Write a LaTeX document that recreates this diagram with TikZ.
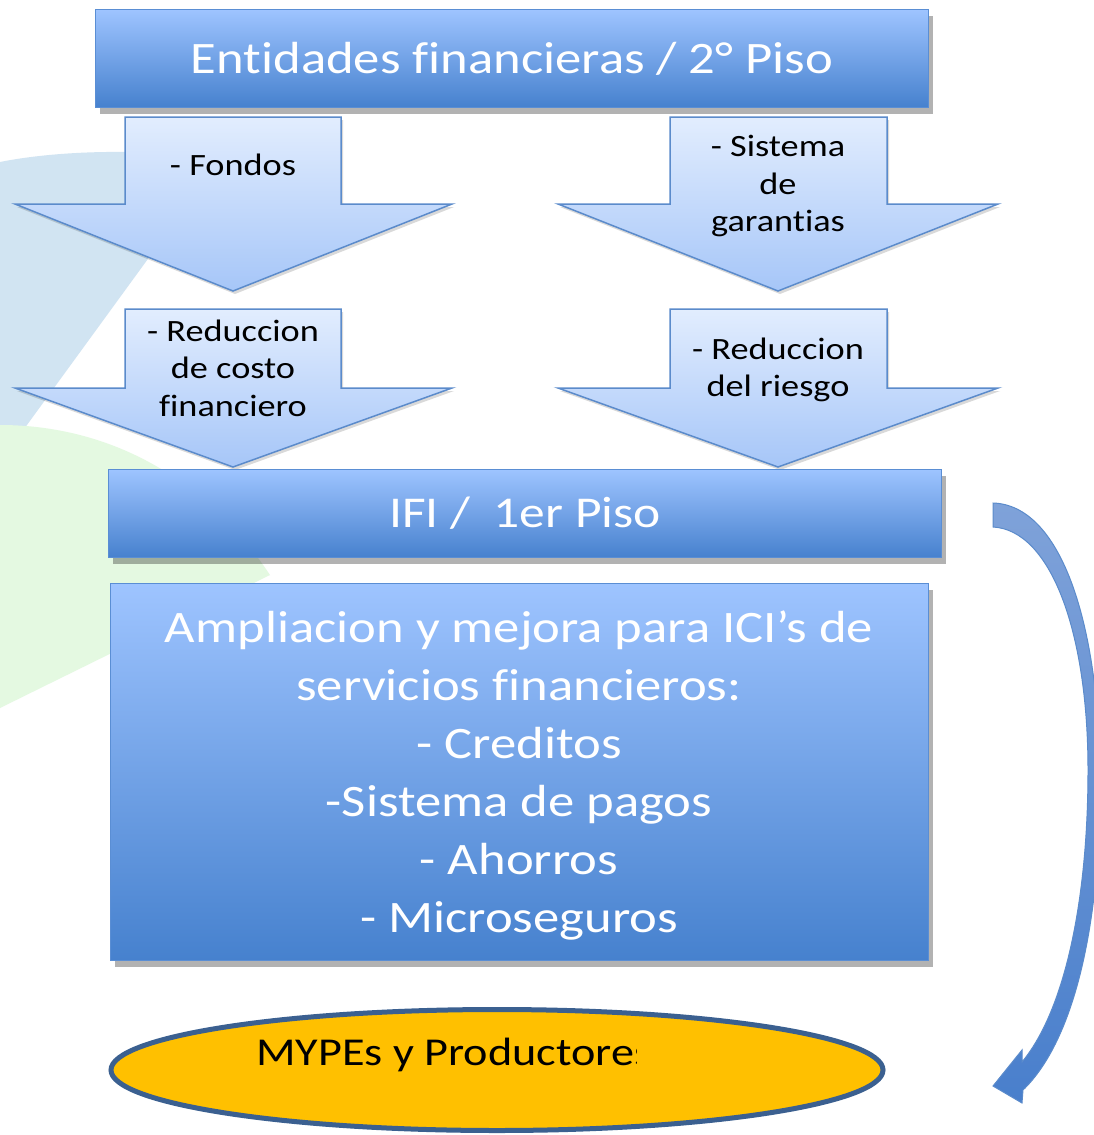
\documentclass[tikz,border=0pt]{standalone}
\usepackage{fontspec}
\setmainfont{Carlito}[FakeStretch=1.17, Ligatures=CommonOff, RawFeature={-liga;-clig;-dlig}]
\usetikzlibrary{shadows,shapes.geometric}
\definecolor{bgblue}{HTML}{D1E4F2}
\definecolor{bggreen}{HTML}{E4F9E1}
\definecolor{hdtop}{HTML}{9EC4FF}
\definecolor{hdbot}{HTML}{4681CE}
\definecolor{hdline}{HTML}{5A8ED4}
\definecolor{artop}{HTML}{E2EDFE}
\definecolor{arbot}{HTML}{A6C6F8}
\definecolor{arline}{HTML}{5B8BCB}
\definecolor{cvtop}{HTML}{7FA2D9}
\definecolor{cvbot}{HTML}{497FCC}
\definecolor{ellfill}{HTML}{FFC000}
\definecolor{ellline}{HTML}{3B6090}
\begin{document}
\begin{tikzpicture}[x=1pt,y=-1pt,
  header/.style={draw=hdline, line width=1pt, top color=hdtop, bottom color=hdbot,
    drop shadow={shadow xshift=4pt, shadow yshift=-6pt, opacity=0.3, fill=black},
    text=white, inner sep=0pt},
  blockarrow/.style={draw=arline, line width=1.5pt, top color=artop, bottom color=arbot,
    drop shadow={shadow xshift=2pt, shadow yshift=-3pt, opacity=0.15, fill=black}},
  arrowtext/.style={font=\fontsize{31}{37.5}\selectfont, align=center, text=black, inner sep=0pt},
  bigtext/.style={font=\fontsize{45}{58}\selectfont, align=center, text=white, inner sep=0pt}
]
\useasboundingbox (0,0) rectangle (1094,1135);
\clip (0,0) rectangle (1094,1135);
\fill[white] (0,0) rectangle (1094,1135);
% background decorative sectors
\fill[bgblue] (0,162) .. controls (60,150) and (150,148) .. (220,160) -- (0,462) -- cycle;
\fill[bggreen] (0,425) .. controls (100,425) and (200,470) .. (270,575) -- (0,708) -- cycle;
% block arrows
\path[blockarrow] (125,117) -- (341,117) -- (341,204) -- (452,204) -- (233,291) -- (15,204) -- (125,204) -- cycle;
\path[blockarrow] (670,117) -- (887,117) -- (887,204) -- (998,204) -- (778,291) -- (558,204) -- (670,204) -- cycle;
\path[blockarrow] (125,309) -- (341,309) -- (341,388) -- (452,388) -- (233,467) -- (15,388) -- (125,388) -- cycle;
\path[blockarrow] (670,309) -- (887,309) -- (887,388) -- (998,388) -- (778,467) -- (558,388) -- (670,388) -- cycle;
\node[arrowtext, anchor=base] (fondos) at (233,175) {- Fondos};
\node[arrowtext] (garantias) at (778,186) {- Sistema\\de\\garantias};
\node[arrowtext] (costo) at (233,368) {- Reduccion\\de costo\\financiero};
\node[arrowtext] (riesgo) at (778,370) {- Reduccion\\del riesgo};
% header boxes
\node[header, anchor=north west, minimum width=833pt, minimum height=98pt,
  font=\fontsize{45}{54}\selectfont] (entidades) at (95,9) {Entidades financieras / 2° Piso};
\node[header, anchor=north west, minimum width=833pt, minimum height=88pt,
  font=\fontsize{44}{52}\selectfont] (ifi) at (108,469) {IFI / \ 1er Piso};
\node[header, anchor=north west, minimum width=818pt, minimum height=377pt] (servicios) at (110,583) {};
\node[bigtext] (serviciostext) at (519,775.5)
  {Ampliacion y mejora para ICI’s de\\servicios financieros:\\- Creditos\\-Sistema de pagos\\- Ahorros\\- Microseguros};
% ellipse
\node[ellipse, draw=ellline, line width=5pt, fill=ellfill, minimum width=772pt, minimum height=121pt] (mypes) at (497,1070) {};
\begin{scope}
\clip (240,1020) rectangle (636,1090);
\node[anchor=base west, inner sep=0pt, font=\fontsize{39.5}{46}\selectfont, text=black] (mypestext) at (256,1065) {MYPEs y Productores};
\end{scope}
% curved arrow
\path[draw=arline, line width=1pt, top color=cvtop, bottom color=cvbot]
  (993,503) .. controls (1060,505) and (1098,620) .. (1100,770)
  .. controls (1102,920) and (1075,1040) .. (1023,1090)
  -- (1022,1103) -- (993,1086) -- (1022,1050) -- (1022,1062)
  .. controls (1065,1010) and (1088,900) .. (1088,770)
  .. controls (1088,630) and (1050,530) .. (993,527) -- cycle;
\end{tikzpicture}
\end{document}
